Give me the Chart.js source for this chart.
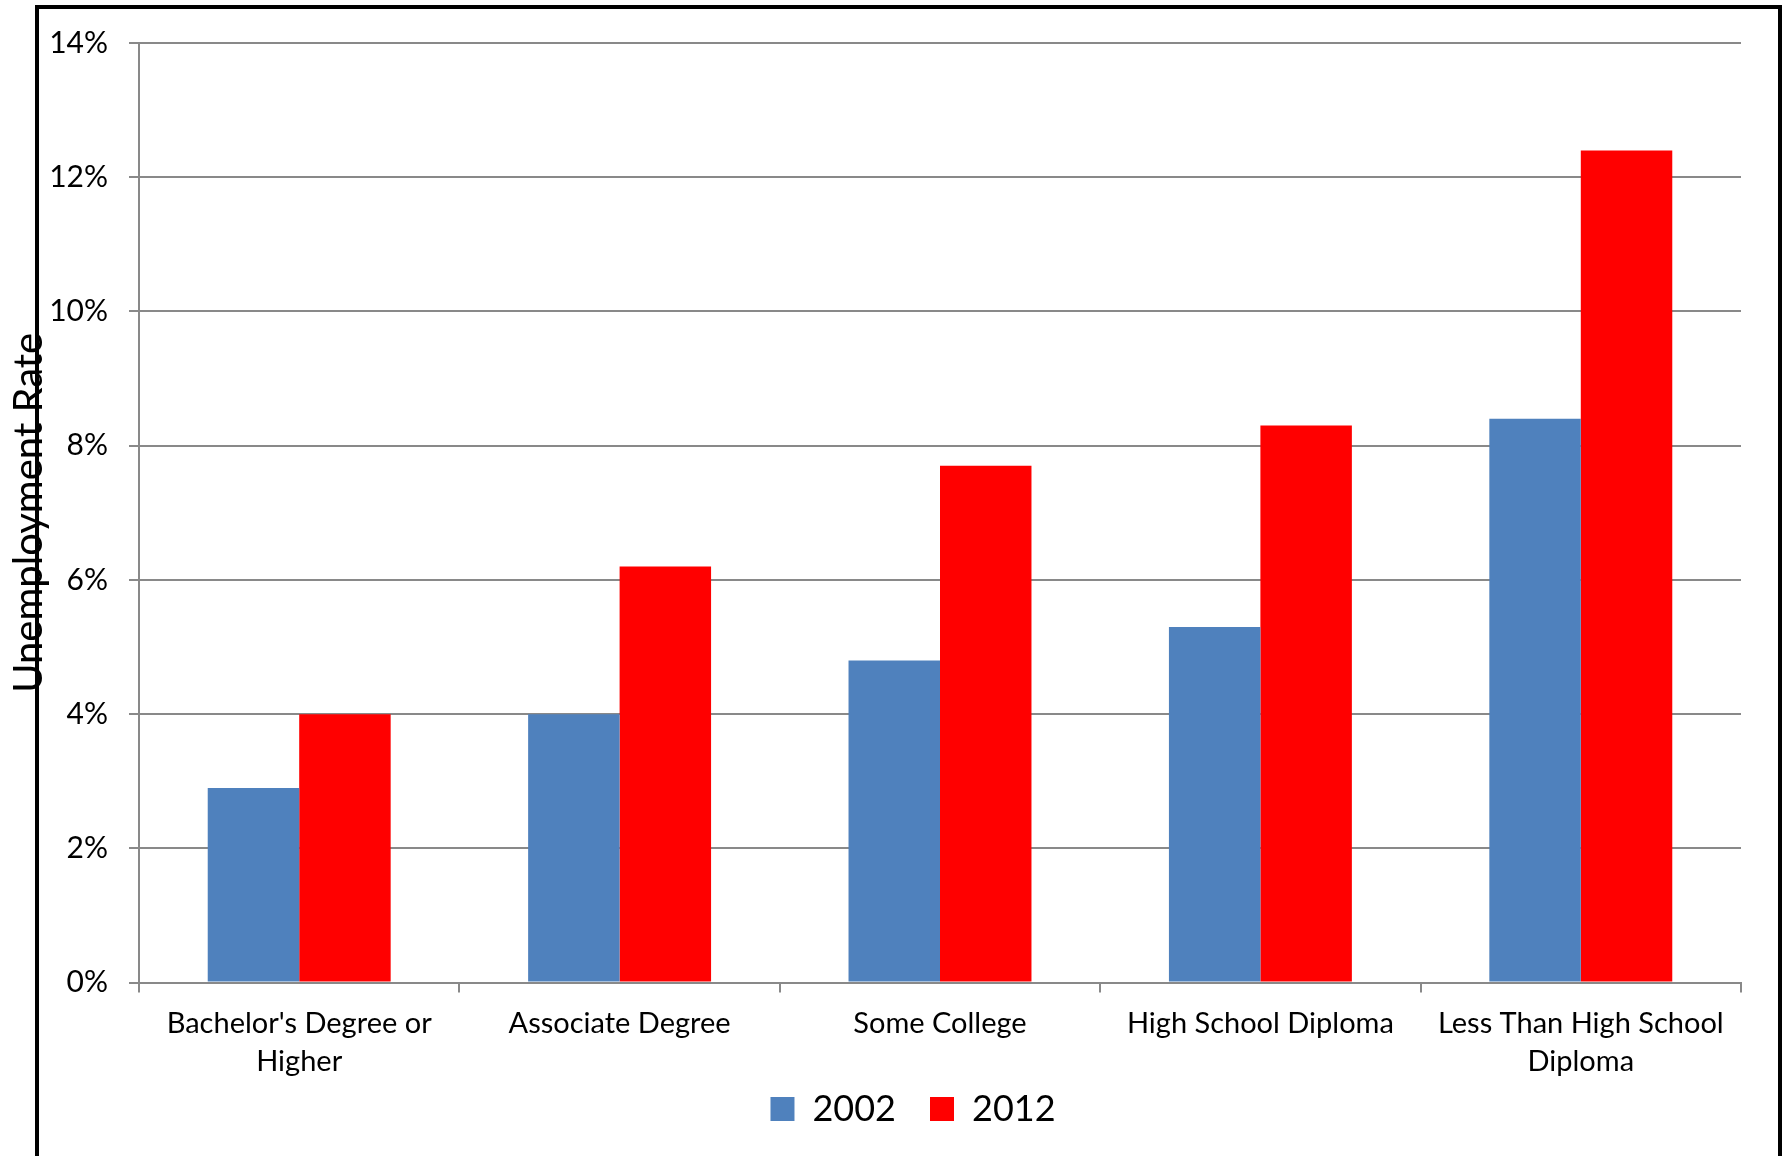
<!DOCTYPE html>
<html>
<head>
<meta charset="utf-8">
<script src="https://cdn.jsdelivr.net/npm/chart.js@4.4.1/dist/chart.umd.min.js"></script>
<style>
  html, body { margin: 0; padding: 0; background: #fff; overflow: hidden; }
  #wrap { width: 1787px; height: 1156px; position: relative; }
</style>
</head>
<body>
<div id="wrap"><canvas id="rateChart" width="1787" height="1156"></canvas></div>
<script>
// chart data
const categories = [
    ["Bachelor's Degree or", "Higher"],
    "Associate Degree",
    "Some College",
    "High School Diploma",
    ["Less Than High School", "Diploma"]
];
const rates2002 = [2.9, 4.0, 4.8, 5.3, 8.4];
const rates2012 = [4.0, 6.2, 7.7, 8.3, 12.4];
const yTicks = [0, 2, 4, 6, 8, 10, 12, 14];

const fontFamily = "Lato, 'Open Sans', sans-serif";
const gridGray = '#898989';

// legend: keep the wide gap between items but pull it up closer to the axis labels
const legendTweak = {
    id: 'legendTweak',
    beforeLayout(chart) {
        const lg = chart.legend;
        if (lg && !lg._tweaked) {
            const fit = lg.fit;
            lg.fit = function() {
                fit.call(this);
                this.height -= 16;
            };
            lg._tweaked = true;
        }
    },
    afterLayout(chart) {
        const lg = chart.legend;
        if (lg) {
            lg.left -= 27;
            lg.right -= 27;
            lg.top -= 35;
            lg.bottom -= 35;
        }
    }
};

// black frame round the picture (bottom edge is cut off in the original)
const framePlugin = {
    id: 'frame',
    afterDraw(chart) {
        const ctx = chart.ctx;
        ctx.save();
        ctx.strokeStyle = '#000';
        ctx.lineWidth = 4;
        ctx.beginPath();
        ctx.moveTo(37, 1170);
        ctx.lineTo(37, 7);
        ctx.lineTo(1780, 7);
        ctx.lineTo(1780, 1170);
        ctx.stroke();
        ctx.restore();
    }
};

document.addEventListener('DOMContentLoaded', function() {
    const ctx = document.getElementById('rateChart').getContext('2d');

    new Chart(ctx, {
        type: 'bar',
        data: {
            labels: categories,
            datasets: [{
                label: '2002',
                data: rates2002,
                backgroundColor: '#4F81BD',
                borderWidth: 0
            }, {
                label: '2012',
                data: rates2012,
                backgroundColor: '#FF0000',
                borderWidth: 0
            }]
        },
        options: {
            responsive: false,
            animation: false,
            devicePixelRatio: 1,
            categoryPercentage: 0.571,
            barPercentage: 1.0,
            layout: {
                padding: { left: 5, right: 46, top: 43, bottom: 0 }
            },
            plugins: {
                tooltip: { enabled: false },
                legend: {
                    position: 'bottom',
                    fullSize: false,
                    labels: {
                        color: '#000',
                        boxWidth: 24,
                        boxHeight: 24,
                        padding: 34,
                        font: { family: fontFamily, size: 36 }
                    }
                }
            },
            scales: {
                x: {
                    grid: {
                        display: true,
                        drawOnChartArea: false,
                        drawTicks: true,
                        tickLength: 10,
                        color: gridGray,
                        lineWidth: 2,
                        offset: true
                    },
                    border: { color: gridGray, width: 2 },
                    ticks: {
                        color: '#000',
                        padding: 12,
                        maxRotation: 0,
                        autoSkip: false,
                        font: { family: fontFamily, size: 29, lineHeight: 1.3 }
                    }
                },
                y: {
                    min: 0,
                    max: 14,
                    afterFit: function(scale) {
                        scale.width = 134;
                    },
                    afterBuildTicks: function(scale) {
                        scale.ticks = yTicks.map(v => ({ value: v }));
                    },
                    grid: {
                        color: gridGray,
                        lineWidth: 2,
                        tickLength: 10
                    },
                    border: { color: gridGray, width: 2 },
                    ticks: {
                        color: '#000',
                        padding: 21,
                        font: { family: fontFamily, size: 30 },
                        callback: function(value) { return value + '%'; }
                    },
                    title: {
                        display: true,
                        text: 'Unemployment Rate',
                        color: '#000',
                        padding: { top: 0, bottom: 0 },
                        font: { family: fontFamily, size: 40, lineHeight: 1.2 }
                    }
                }
            }
        },
        plugins: [legendTweak, framePlugin]
    });
});
</script>
</body>
</html>
